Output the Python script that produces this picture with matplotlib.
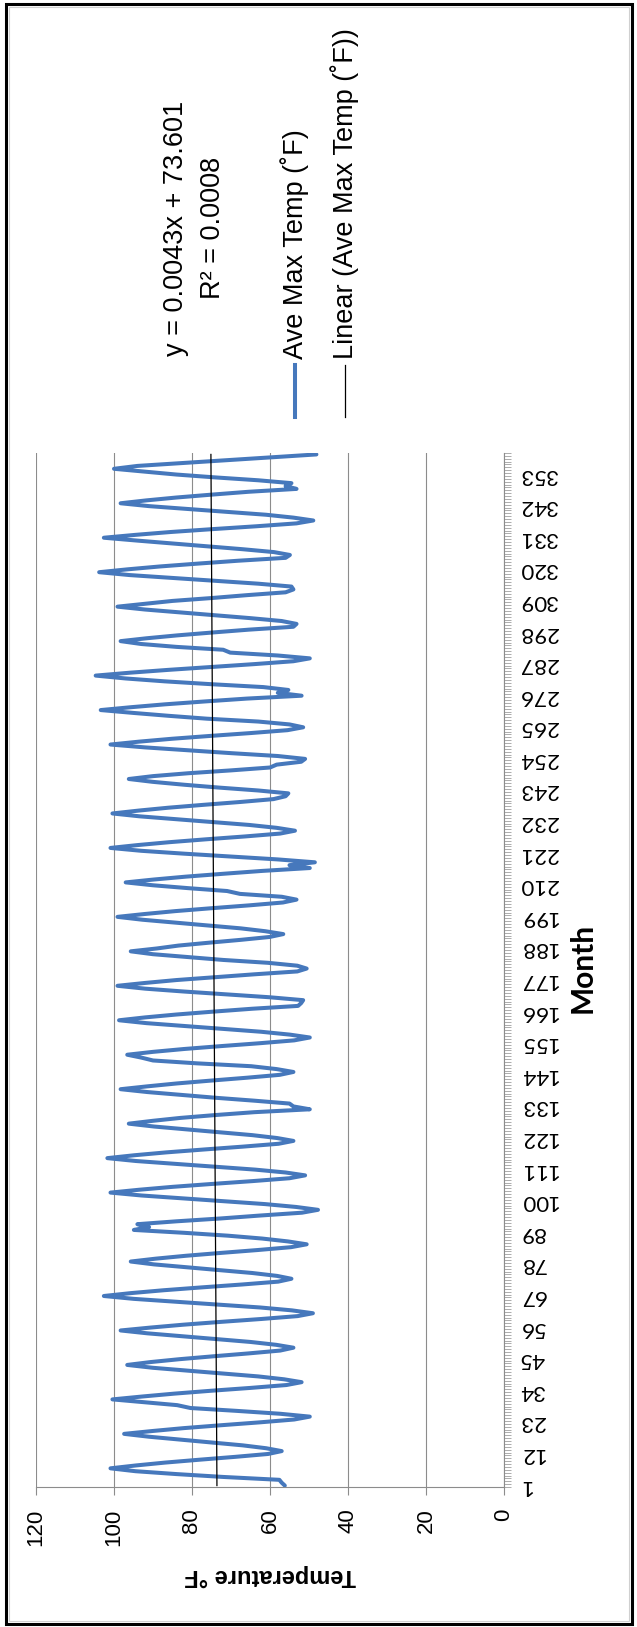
import numpy as np
import matplotlib
matplotlib.use("Agg")
import matplotlib.pyplot as plt
from matplotlib.lines import Line2D
from matplotlib.patches import Rectangle

# Monthly average maximum temperature (°F), 30 years, one row per year (Jan..Dec)
ave_max_temp = [
    56.2, 57.0, 57.6, 72.0, 84.0, 94.5, 100.9, 94.4, 86.9, 78.1, 68.9, 60.5,
    57.0, 61.0, 67.0, 75.0, 83.0, 91.0, 97.4, 90.1, 82.1, 72.6, 62.7, 53.8,
    49.8, 57.4, 68.5, 80.4, 83.8, 92.0, 100.4, 92.8, 84.6, 75.2, 65.0, 55.8,
    51.9, 56.4, 63.0, 72.0, 81.0, 90.0, 96.6, 90.6, 83.2, 74.6, 65.6, 57.4,
    54.0, 58.4, 65.0, 73.8, 82.6, 91.4, 98.3, 90.7, 82.3, 72.5, 62.2, 52.9,
    49.0, 54.4, 62.5, 73.3, 84.1, 94.9, 102.6, 95.7, 87.3, 77.5, 67.2, 57.9,
    54.5, 58.2, 64.5, 72.9, 81.3, 89.7, 95.7, 89.3, 81.6, 72.6, 63.2, 54.6,
    50.6, 55.4, 62.0, 70.8, 82.0, 94.9, 91.0, 94.0, 84.0, 72.6, 62.7, 51.8,
    47.7, 53.3, 61.3, 71.9, 82.5, 93.0, 100.9, 93.5, 85.0, 75.0, 64.5, 55.0,
    51.0, 56.0, 63.8, 74.0, 84.2, 94.4, 101.7, 94.8, 86.6, 77.0, 67.0, 57.8,
    54.0, 58.2, 64.5, 72.9, 81.3, 89.7, 96.2, 90.0, 83.0, 74.0, 64.0, 49.8,
    54.0, 55.0, 64.0, 73.8, 82.6, 91.4, 98.3, 91.4, 83.9, 75.1, 65.9, 57.5,
    54.0, 58.3, 64.8, 78.7, 90.0, 93.0, 96.6, 90.0, 82.0, 72.6, 62.7, 53.8,
    49.8, 54.9, 62.3, 72.0, 81.9, 91.7, 98.7, 92.0, 84.0, 74.6, 64.7, 52.8,
    52.0, 51.5, 60.0, 71.0, 82.0, 92.0, 99.1, 92.0, 84.0, 74.0, 64.0, 53.0,
    50.6, 53.0, 60.5, 72.0, 81.0, 90.0, 95.7, 89.0, 83.5, 75.7, 67.5, 60.1,
    56.6, 61.2, 67.5, 75.9, 84.3, 92.7, 99.1, 92.1, 84.3, 75.1, 65.4, 56.7,
    53.2, 57.0, 67.7, 71.0, 81.0, 90.0, 97.0, 89.8, 81.6, 72.0, 62.0, 49.8,
    55.0, 48.5, 58.0, 70.0, 82.0, 93.0, 100.9, 93.9, 85.8, 76.4, 66.4, 57.4,
    53.6, 58.3, 65.3, 74.7, 84.0, 93.4, 100.4, 93.7, 86.1, 77.1, 67.6, 59.1,
    56.0, 55.3, 63.0, 73.0, 82.0, 90.0, 96.2, 90.0, 81.0, 70.0, 60.0, 58.3,
    52.0, 51.0, 58.0, 70.0, 81.0, 92.0, 100.9, 93.6, 85.2, 75.3, 64.9, 55.5,
    51.5, 55.0, 63.0, 76.2, 86.0, 95.0, 103.4, 95.6, 86.9, 76.7, 65.9, 51.9,
    58.0, 55.3, 61.7, 75.0, 87.0, 97.0, 104.7, 96.0, 86.0, 75.0, 64.0, 54.0,
    49.8, 58.0, 70.2, 72.0, 84.0, 93.0, 98.3, 91.6, 83.8, 74.8, 65.4, 54.0,
    53.2, 57.0, 65.0, 74.0, 83.0, 92.0, 99.1, 92.0, 85.0, 75.0, 66.0, 56.0,
    54.0, 54.5, 63.0, 74.0, 85.0, 96.0, 103.8, 96.5, 88.2, 78.4, 68.1, 56.0,
    54.9, 59.0, 67.0, 76.0, 85.0, 94.0, 102.6, 94.5, 85.4, 74.7, 63.4, 53.2,
    48.9, 54.0, 61.0, 71.0, 81.0, 91.0, 98.3, 91.7, 84.0, 75.0, 65.5, 53.2,
    56.0, 54.5, 63.0, 74.0, 84.0, 92.0, 100.0, 94.0, 82.5, 71.0, 59.5, 48.1,
]

month_labels = [1, 12, 23, 34, 45, 56, 67, 78, 89, 100, 111, 122, 133, 144, 155,
                166, 177, 188, 199, 210, 221, 232, 243, 254, 265, 276, 287, 298,
                309, 320, 331, 342, 353]
temp_ticks = [0, 20, 40, 60, 80, 100, 120]

trend_slope = 0.0043
trend_intercept = 73.601
trend_r2 = 0.0008

series_name = "Ave Max Temp (\u02daF)"
trend_name = "Linear (Ave Max Temp (\u02daF))"

SANS = ["Liberation Sans", "DejaVu Sans"]
CAL = ["Lato", "DejaVu Sans"]
BLUE = "#4678BC"
GRID = "#8C8C8C"

W, H = 637, 1627
fig = plt.figure(figsize=(W / 100, H / 100), dpi=100)


def fx(px):
    return px / W


def fy(py):
    return 1 - py / H


# Page is laid out sideways: temperature runs right-to-left, months run upward
ax = fig.add_axes([fx(36), fy(1487), fx(504) - fx(36), fy(453) - fy(1487)])
months = np.arange(1, len(ave_max_temp) + 1)
ax.set_xlim(120, 0)
ax.set_ylim(0.5, len(ave_max_temp) + 0.5)

ax.plot(ave_max_temp, months, color=BLUE, lw=2.9, solid_joinstyle="round",
        solid_capstyle="round", zorder=3)
trend = trend_slope * months + trend_intercept
ax.plot(trend, months, color="black", lw=0.9, zorder=4)

ax.set_xticks(temp_ticks)
ax.set_xticklabels([str(t) for t in temp_ticks], rotation=90,
                   fontsize=16, family=SANS)
ax.grid(axis="x", color=GRID, lw=0.8)
ax.grid(axis="y", visible=False)
ax.tick_params(axis="x", direction="out", length=5.5, width=0.8,
               color=GRID, pad=10)

ax.yaxis.tick_right()
ax.set_yticks(month_labels)
ax.set_yticklabels([str(m) for m in month_labels], fontsize=16, family=CAL)
ax.set_yticks(np.arange(0.5, len(ave_max_temp) + 1, 1), minor=True)
ax.tick_params(axis="y", which="major", length=0, pad=11)
ax.tick_params(axis="y", which="minor", direction="out", length=5,
               width=0.5, color=GRID)
for lab in ax.get_yticklabels():
    lab.set_rotation(180)
    lab.set_va("center")

for side in ("top", "left"):
    ax.spines[side].set_visible(False)
for side in ("bottom", "right"):
    ax.spines[side].set_color(GRID)
    ax.spines[side].set_linewidth(0.8)

# Axis titles
fig.text(fx(270), fy(1576), "Temperature \u00b0F", rotation=180,
         fontsize=17, fontweight="bold", family=SANS, ha="center", va="center")
fig.text(fx(583), fy(968), "Month", rotation=90, fontsize=21.5,
         fontweight="bold", family=CAL, ha="center", va="center")

# Trendline equation
fig.text(fx(176), fy(228), f"y = {trend_slope}x + {trend_intercept}",
         rotation=90, fontsize=19.5, family=SANS, ha="center", va="center")
fig.text(fx(213), fy(228), f"R\u00b2 = {trend_r2}",
         rotation=90, fontsize=19.5, family=SANS, ha="center", va="center")

# Legend
for xpos, color, lw, name in ((295, BLUE, 2.9, series_name),
                              (345, "black", 0.9, trend_name)):
    fig.add_artist(Line2D([fx(xpos), fx(xpos)], [fy(417), fy(365)],
                          transform=fig.transFigure, color=color, lw=lw))
    fig.text(fx(xpos), fy(359), name, rotation=90, fontsize=19.5,
             family=SANS, ha="center", va="bottom")

# Chart border
fig.add_artist(Rectangle((fx(6), fy(1624)), fx(632) - fx(6), fy(4) - fy(1624),
                         transform=fig.transFigure, fill=False,
                         ec="black", lw=2.2))
fig.add_artist(Rectangle((fx(9), fy(1621)), fx(629) - fx(9), fy(7) - fy(1621),
                         transform=fig.transFigure, fill=False,
                         ec="#D0D0D0", lw=0.8))

fig.savefig("out.png", dpi=100)
